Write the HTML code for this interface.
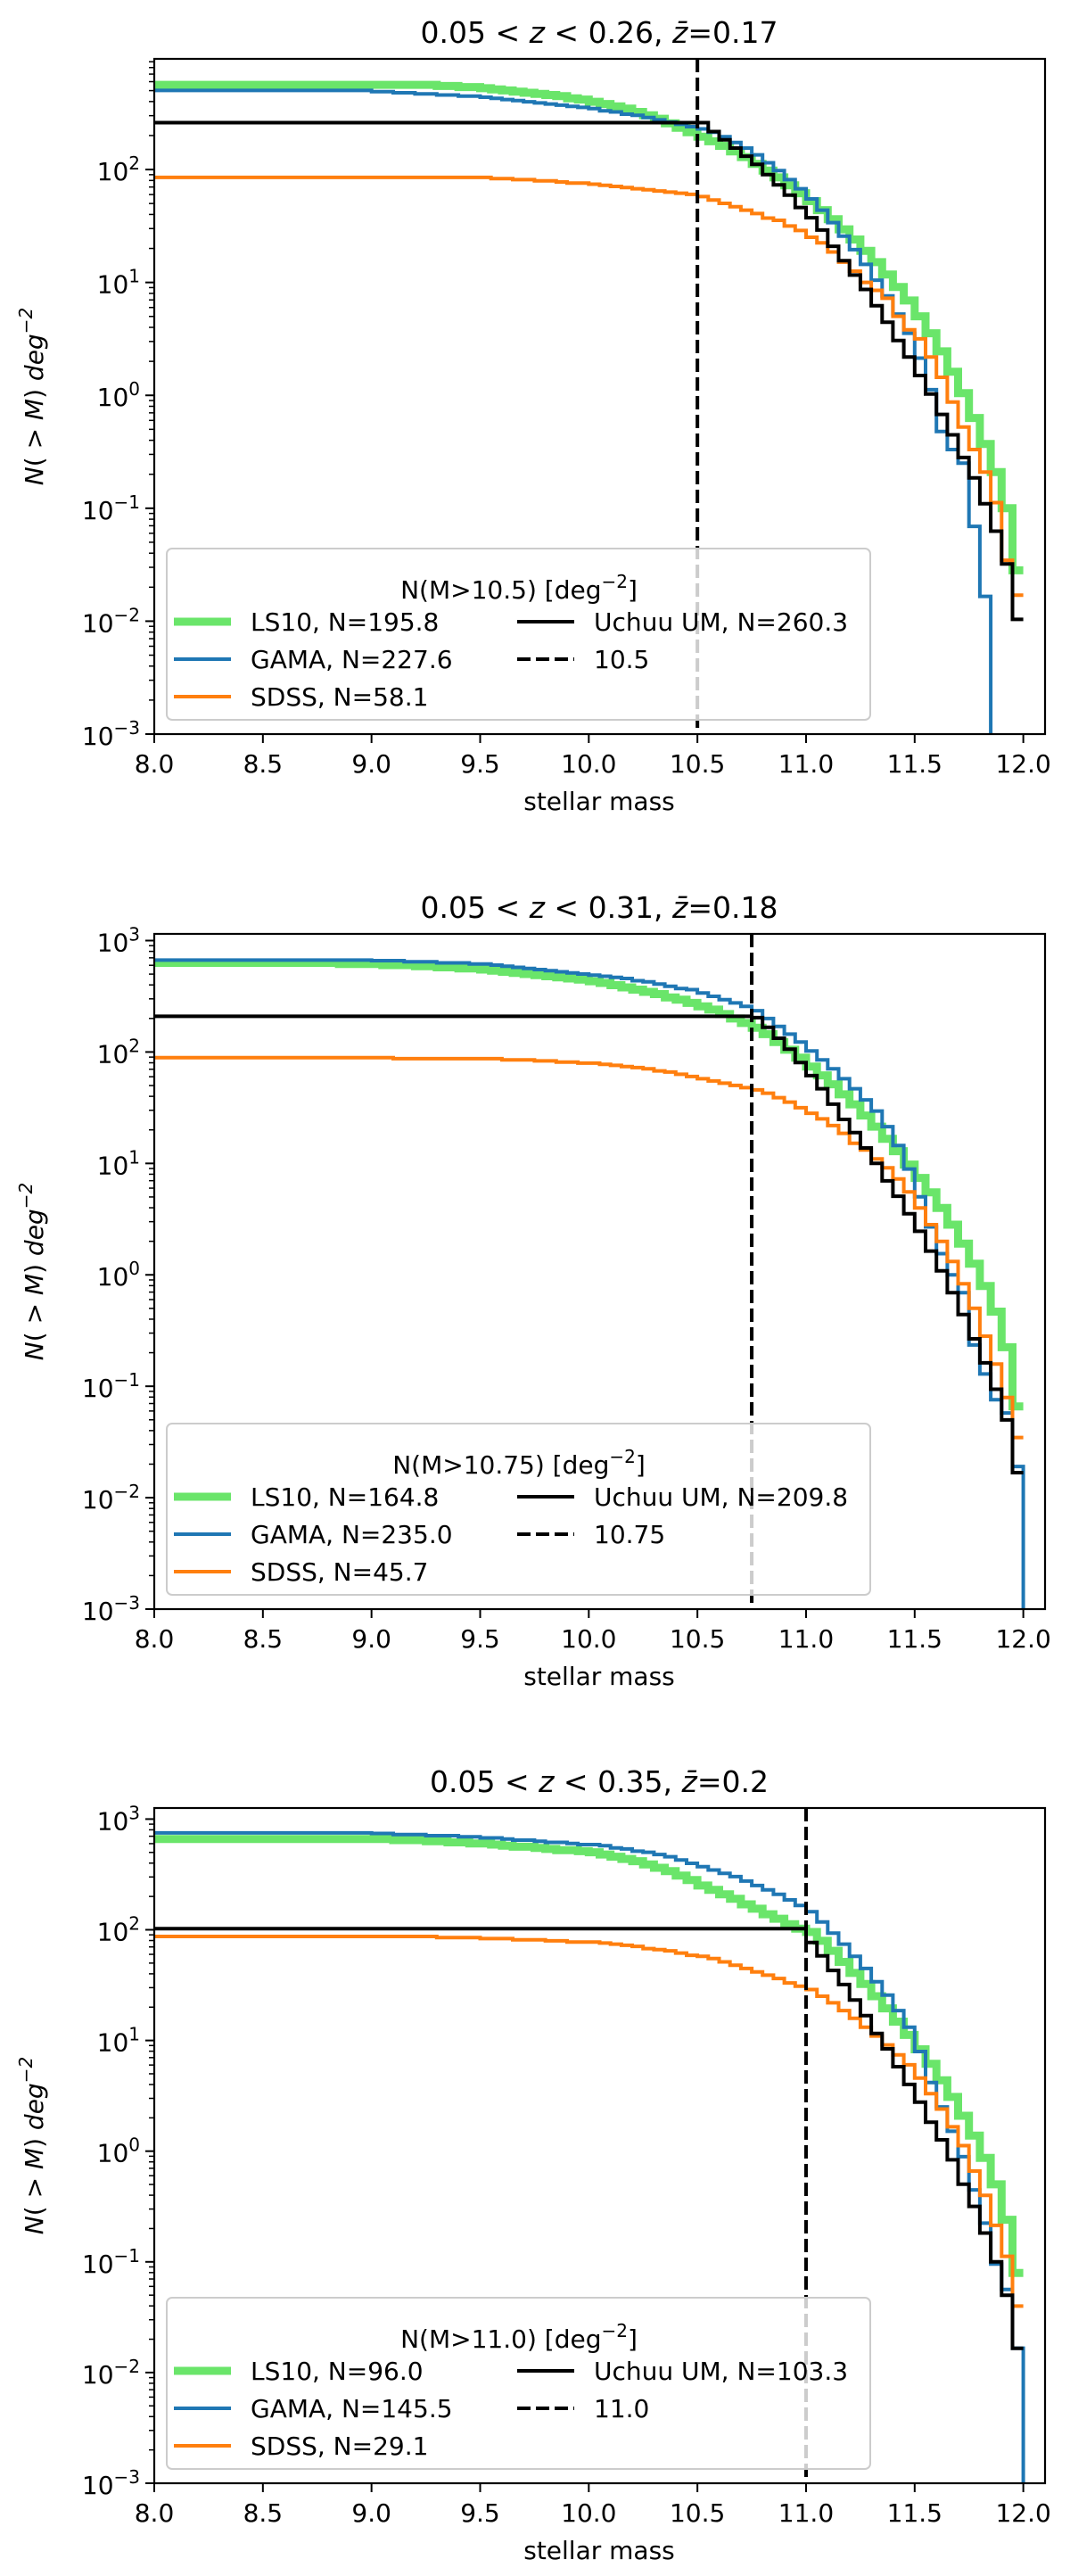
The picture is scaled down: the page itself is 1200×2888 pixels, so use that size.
<!DOCTYPE html>
<html><head><meta charset="utf-8"><title>Cumulative stellar mass functions</title>
<style>
html,body{margin:0;padding:0;background:#fff;}
svg{display:block;font-family:"DejaVu Sans","Liberation Sans",sans-serif;}
</style></head>
<body>
<svg id="fig" xmlns="http://www.w3.org/2000/svg" width="1200" height="2888" viewBox="0 0 1200 2888"></svg>
<script>
// ---- data: log10 N(>M) per 0.05-dex bin from 8.00 to 11.95 ----
const binStart = 8.0;
const binWidth = 0.05;
const xTicks = [8.0, 8.5, 9.0, 9.5, 10.0, 10.5, 11.0, 11.5, 12.0];
const xTickLabels = ["8.0","8.5","9.0","9.5","10.0","10.5","11.0","11.5","12.0"];
const seriesNames = ["LS10","GAMA","SDSS","Uchuu UM"];
const titles = [["0.05","0.26","0.17"],["0.05","0.31","0.18"],["0.05","0.35","0.2"]];
const cutValues = [10.5, 10.75, 11.0];
const cutLabels = ["10.5","10.75","11.0"];
const legendN = [["195.8","227.6","58.1","260.3"],["164.8","235.0","45.7","209.8"],["96.0","145.5","29.1","103.3"]];

const p1Green = [2.75,2.75,2.75,2.75,2.75,2.75,2.75,2.75,2.75,2.75, 2.75,2.75,2.75,2.75,2.75,2.75,2.75,2.75,2.75,2.75, 2.75,2.75,2.75,2.75,2.75,2.75,2.74,2.74,2.73,2.73, 2.72,2.71,2.70,2.69,2.68,2.67,2.66,2.65,2.63,2.62, 2.60,2.58,2.56,2.54,2.51,2.48,2.45,2.41,2.37,2.33, 2.29,2.25,2.21,2.16,2.11,2.05,1.99,1.93,1.86,1.79,1.72,1.64,1.56,1.47,1.38,1.28,1.18,1.07,0.96,0.84,0.70,0.55,0.39,0.21,0.02,-0.20,-0.43,-0.68,-1.0,-1.55];
const p1Blue = [2.70,2.70,2.70,2.70,2.70,2.70,2.70,2.70,2.70,2.70, 2.70,2.70,2.70,2.70,2.70,2.70,2.70,2.70,2.70,2.70, 2.69,2.69,2.68,2.68,2.67,2.67,2.66,2.66,2.65,2.65, 2.64,2.63,2.62,2.61,2.60,2.59,2.58,2.57,2.56,2.55, 2.54,2.52,2.51,2.49,2.48,2.46,2.44,2.42,2.40,2.38, 2.36,2.33,2.29,2.24,2.19,2.13,2.06,1.99,1.91,1.83,1.74,1.64,1.53,1.41,1.29,1.16,1.02,0.88,0.72,0.55,0.33,0.05,-0.32,-0.48,-0.60,-1.16,-1.78,-9,-9,-9];
const p1Orange = [1.93,1.93,1.93,1.93,1.93,1.93,1.93,1.93,1.93,1.93, 1.93,1.93,1.93,1.93,1.93,1.93,1.93,1.93,1.93,1.93, 1.93,1.93,1.93,1.93,1.93,1.93,1.93,1.93,1.93,1.93, 1.93,1.92,1.92,1.91,1.91,1.90,1.90,1.89,1.88,1.88, 1.87,1.86,1.85,1.84,1.83,1.82,1.81,1.80,1.79,1.78, 1.76,1.73,1.70,1.67,1.64,1.61,1.57,1.55,1.50,1.46,1.40,1.35,1.27,1.18,1.10,1.00,0.93,0.86,0.70,0.58,0.50,0.34,0.16,-0.06,-0.28,-0.48,-0.68,-0.95,-1.46,-1.77];
const p1Black = [2.415,2.415,2.415,2.415,2.415,2.415,2.415,2.415,2.415,2.415, 2.415,2.415,2.415,2.415,2.415,2.415,2.415,2.415,2.415,2.415, 2.415,2.415,2.415,2.415,2.415,2.415,2.415,2.415,2.415,2.415, 2.415,2.415,2.415,2.415,2.415,2.415,2.415,2.415,2.415,2.415, 2.415,2.415,2.415,2.415,2.415,2.415,2.415,2.415,2.415,2.415, 2.415,2.336,2.263,2.19,2.118,2.046,1.955,1.864,1.773,1.664,1.573,1.464,1.32,1.192,1.065,0.938,0.793,0.648,0.485,0.339,0.176,0.012,-0.169,-0.35,-0.55,-0.731,-0.96,-1.203,-1.493,-1.984];

const p2Green = [2.80,2.80,2.80,2.80,2.80,2.80,2.80,2.80,2.80,2.80,2.80,2.80,2.80,2.80,2.80, 2.80,2.80,2.79,2.79,2.79,2.79,2.78,2.78,2.78,2.77,2.77,2.76,2.76,2.75,2.75, 2.74,2.73,2.72,2.71,2.70,2.69,2.68,2.67,2.66,2.65,2.635, 2.62,2.60,2.58,2.56,2.54,2.52,2.49,2.47,2.44,2.41,2.38,2.34,2.30,2.26, 2.217,2.16,2.09,2.02,1.95,1.87,1.79,1.71,1.62,1.53,1.43,1.33,1.22,1.11,0.99,0.87,0.74,0.60,0.45,0.28,0.10,-0.10,-0.33,-0.65,-1.18];
const p2Blue = [2.825,2.825,2.825,2.825,2.825,2.825,2.825,2.825,2.825,2.825,2.825,2.825,2.825,2.825,2.825,2.825,2.825,2.825,2.825,2.825, 2.82,2.82,2.82,2.81,2.81,2.81,2.80,2.80,2.80,2.79, 2.79,2.78,2.77,2.76,2.75,2.74,2.73,2.72,2.71,2.70,2.69, 2.68,2.67,2.66,2.64,2.63,2.61,2.59,2.57,2.56,2.53,2.50,2.47,2.44,2.41, 2.371,2.30,2.23,2.16,2.09,2.01,1.93,1.85,1.76,1.67,1.57,1.47,1.33,1.16,0.95,0.70,0.43,0.19,0.0,-0.16,-0.63,-0.89,-1.12,-1.24,-1.72];
const p2Orange = [1.95,1.95,1.95,1.95,1.95,1.95,1.95,1.95,1.95,1.95,1.95,1.95,1.95,1.95,1.95,1.95,1.95,1.95,1.95,1.95, 1.95,1.95,1.94,1.94,1.94,1.94,1.94,1.94,1.94,1.94, 1.94,1.94,1.93,1.93,1.93,1.92,1.92,1.91,1.91,1.90,1.90, 1.89,1.88,1.87,1.86,1.85,1.83,1.82,1.80,1.78,1.76,1.74,1.72,1.70,1.68, 1.66,1.63,1.59,1.55,1.50,1.45,1.40,1.34,1.27,1.18,1.12,1.04,0.96,0.86,0.745,0.60,0.45,0.30,0.12,-0.08,-0.30,-0.55,-0.80,-1.10,-1.46];
const p2Black = [2.32,2.32,2.32,2.32,2.32,2.32,2.32,2.32,2.32,2.32, 2.32,2.32,2.32,2.32,2.32,2.32,2.32,2.32,2.32,2.32, 2.32,2.32,2.32,2.32,2.32,2.32,2.32,2.32,2.32,2.32, 2.32,2.32,2.32,2.32,2.32,2.32,2.32,2.32,2.32,2.32, 2.32,2.32,2.32,2.32,2.32,2.32,2.32,2.32,2.32,2.32, 2.32,2.32,2.32,2.32,2.32, 2.308,2.221,2.123,2.025,1.906,1.788,1.670,1.532,1.395,1.277,1.139,1.001,0.843,0.706,0.548,0.391,0.213,0.036,-0.16,-0.357,-0.574,-0.79,-1.027,-1.302,-1.775];

const p3Green = [2.82,2.82,2.82,2.82,2.82,2.82,2.82,2.82,2.82,2.82,2.82,2.82,2.82,2.82,2.82,2.82,2.82,2.82,2.82,2.82, 2.82,2.82,2.81,2.81,2.81,2.80,2.80,2.79,2.79,2.78,2.78,2.77,2.76,2.75,2.75,2.74,2.73,2.72,2.72,2.71, 2.70,2.68,2.66,2.64,2.62,2.59,2.56,2.53,2.49,2.45,2.40,2.36,2.32,2.28,2.23,2.19,2.14,2.10,2.05,2.01, 1.98,1.90,1.81,1.71,1.61,1.51,1.40,1.29,1.17,1.05,0.92,0.79,0.64,0.49,0.32,0.14,-0.06,-0.30,-0.62,-1.1];
const p3Blue = [2.875,2.875,2.875,2.875,2.875,2.875,2.875,2.875,2.875,2.875,2.875,2.875,2.875,2.875,2.875,2.875,2.875,2.875,2.875,2.875, 2.87,2.87,2.86,2.86,2.86,2.85,2.85,2.85,2.84,2.84,2.83,2.83,2.82,2.81,2.81,2.80,2.79,2.79,2.78,2.77, 2.77,2.76,2.74,2.73,2.71,2.70,2.68,2.66,2.63,2.60,2.57,2.54,2.51,2.48,2.44,2.40,2.36,2.32,2.27,2.22, 2.163,2.07,1.97,1.87,1.76,1.65,1.53,1.41,1.27,1.12,0.90,0.62,0.40,0.18,-0.05,-0.35,-0.65,-1.02,-1.25,-1.78];
const p3Orange = [1.94,1.94,1.94,1.94,1.94,1.94,1.94,1.94,1.94,1.94,1.94,1.94,1.94,1.94,1.94,1.94,1.94,1.94,1.94,1.94,1.94,1.94,1.94,1.94,1.94, 1.94,1.93,1.93,1.93,1.93,1.92,1.92,1.92,1.91,1.91,1.91,1.90,1.90,1.89,1.89, 1.89,1.88,1.87,1.86,1.85,1.83,1.82,1.81,1.79,1.77,1.76,1.74,1.71,1.68,1.65,1.62,1.59,1.56,1.52,1.49, 1.46,1.40,1.34,1.27,1.20,1.12,1.04,0.96,0.87,0.78,0.66,0.52,0.38,0.22,0.05,-0.18,-0.40,-0.67,-0.95,-1.40];
const p3Black = [2.01,2.01,2.01,2.01,2.01,2.01,2.01,2.01,2.01,2.01, 2.01,2.01,2.01,2.01,2.01,2.01,2.01,2.01,2.01,2.01, 2.01,2.01,2.01,2.01,2.01,2.01,2.01,2.01,2.01,2.01, 2.01,2.01,2.01,2.01,2.01,2.01,2.01,2.01,2.01,2.01, 2.01,2.01,2.01,2.01,2.01,2.01,2.01,2.01,2.01,2.01, 2.01,2.01,2.01,2.01,2.01,2.01,2.01,2.01,2.01,2.01, 1.886,1.765,1.633,1.505,1.365,1.224,1.064,0.924,0.763,0.603,0.443,0.262,0.102,-0.078,-0.299,-0.499,-0.74,-1.0,-1.301,-1.782];

const panelGreen = [p1Green, p2Green, p3Green];
const panelBlue = [p1Blue, p2Blue, p3Blue];
const panelOrange = [p1Orange, p2Orange, p3Orange];
const panelBlack = [p1Black, p2Black, p3Black];
const logYMin = -3;
const logYMax = [2.98, 3.06, 3.10];

// ---- layout ----
const NS = "http://www.w3.org/2000/svg";
const svg = document.getElementById("fig");
const AX_L = 173, AX_R = 1172, AX_H = 757;
const panelTops = [66, 1047, 2027];
const XMIN = 8.0, XMAX = 12.1;
function mk(tag, attrs, parent) {
  const e = document.createElementNS(NS, tag);
  for (const k in attrs) e.setAttribute(k, attrs[k]);
  parent.appendChild(e);
  return e;
}
function xScale(m) { return AX_L + (m - XMIN) / (XMAX - XMIN) * (AX_R - AX_L); }

panelTops.forEach((top, p) => {
  const bottom = top + AX_H;
  const yMax = logYMax[p];
  const yScale = lv => top + (yMax - lv) / (yMax - logYMin) * AX_H;
  const g = mk("g", {}, svg);
  
  

  const clip = mk("clipPath", {id: "clip" + p}, g);
  mk("rect", {x: AX_L, y: top, width: AX_R - AX_L, height: AX_H}, clip);

  // title
  const t = titles[p];
  const title = mk("text", {x: 672, y: top - 18, "font-size": 33, "text-anchor": "middle", fill: "#000"}, g);
  
  
  title.innerHTML = t[0] + " &lt; <tspan font-style='italic'>z</tspan> &lt; " + t[1] + ", <tspan font-style='italic'>z̄</tspan>=" + t[2];

  // series
  const series = [[panelGreen[p], "#6ae56a", 9, "ls10-line"], [panelBlue[p], "#1f77b4", 4, "gama-line"], [panelOrange[p], "#ff7f0e", 4, "sdss-line"], [panelBlack[p], "#000000", 4, "uchuu-line"]];
  const lg = mk("g", {"clip-path": "url(#clip" + p + ")"}, g);
  series.forEach(([vals, col, w, name], si) => {
    let d = "";
    vals.forEach((v, i) => {
      const x0 = xScale(binStart + i * binWidth), x1 = xScale(binStart + (i + 1) * binWidth);
      const y = yScale(Math.max(v, -3.6));
      d += (i === 0 ? "M" : "L") + x0.toFixed(1) + "," + y.toFixed(1) + "L" + x1.toFixed(1) + "," + y.toFixed(1);
    });
    if (si === 1 && p > 0) d += "L" + xScale(binStart + vals.length * binWidth).toFixed(1) + "," + (bottom + 10);
    const path = mk("path", {d: d, fill: "none", stroke: col, "stroke-width": w, "stroke-linejoin": "miter"}, lg);
    
    
  });

  // cut line
  const cx = xScale(cutValues[p]);
  const cut = mk("line", {x1: cx, y1: top, x2: cx, y2: bottom, stroke: "#000", "stroke-width": 4, "stroke-dasharray": "15,6"}, g);
  
  

  // axes frame
  const frame = mk("rect", {x: AX_L, y: top, width: AX_R - AX_L, height: AX_H, fill: "none", stroke: "#000", "stroke-width": 2.2}, g);
  
  

  // x ticks
  xTicks.forEach((v, i) => {
    const x = xScale(v);
    mk("line", {x1: x, y1: bottom, x2: x, y2: bottom + 10, stroke: "#000", "stroke-width": 2}, g);
    const lb = mk("text", {x: x, y: bottom + 43, "font-size": 28, "text-anchor": "middle"}, g);
    
    
    lb.textContent = xTickLabels[i];
  });
  const xl = mk("text", {x: 672, y: bottom + 85, "font-size": 28, "text-anchor": "middle"}, g);
  
  
  xl.textContent = "stellar mass";

  // y ticks
  for (let e = -3; e <= 3; e++) {
    for (let m = 1; m <= 9; m++) {
      const lv = e + Math.log10(m);
      if (lv > yMax + 1e-9 || lv < logYMin - 1e-9) continue;
      const y = yScale(lv);
      const major = m === 1;
      mk("line", {x1: AX_L - (major ? 10 : 6), y1: y, x2: AX_L, y2: y, stroke: "#000", "stroke-width": major ? 2 : 1.5}, g);
      if (major) {
        const lb = mk("text", {x: AX_L - 16, y: y + 12, "font-size": 28, "text-anchor": "end"}, g);
        
        
        lb.innerHTML = "10<tspan font-size='20' dy='-12'>" + (e < 0 ? "−" + (-e) : e) + "</tspan>";
      }
    }
  }
  const yl = mk("text", {x: 0, y: 0, "font-size": 28, "text-anchor": "middle", transform: "translate(48," + (top + AX_H / 2) + ") rotate(-90)"}, g);
  
  
  yl.innerHTML = "<tspan font-style='italic'>N</tspan>( &gt; <tspan font-style='italic'>M</tspan>) <tspan font-style='italic'>deg</tspan><tspan font-size='20' dy='-12' font-style='italic'>−2</tspan>";

  // legend
  const ly = top + 549;
  const leg = mk("g", {}, g);
  
  
  mk("rect", {x: 187, y: ly, width: 789, height: 192, rx: 6, fill: "#fff", "fill-opacity": 0.8, stroke: "#cccccc", "stroke-width": 2}, leg);
  const lt = mk("text", {x: 582, y: ly + 56, "font-size": 28, "text-anchor": "middle"}, leg);
  
  
  lt.innerHTML = "N(M&gt;" + cutLabels[p] + ") [deg<tspan font-size='20' dy='-12'>−2</tspan><tspan dy='12'>]</tspan>";
  const entries = [
    [195, ly + 82, "#6ae56a", 9, null, seriesNames[0] + ", N=" + legendN[p][0]],
    [195, ly + 124, "#1f77b4", 4, null, seriesNames[1] + ", N=" + legendN[p][1]],
    [195, ly + 166, "#ff7f0e", 4, null, seriesNames[2] + ", N=" + legendN[p][2]],
    [580, ly + 82, "#000", 4, null, seriesNames[3] + ", N=" + legendN[p][3]],
    [580, ly + 124, "#000", 4, "15,6", cutLabels[p]]
  ];
  entries.forEach(([x, y, col, w, dash, txt]) => {
    const eg = mk("g", {}, leg);
    
    
    const a = {x1: x, y1: y, x2: x + 64, y2: y, stroke: col, "stroke-width": w};
    if (dash) a["stroke-dasharray"] = dash;
    mk("line", a, eg);
    const tx = mk("text", {x: x + 86, y: y + 10, "font-size": 28}, eg);
    tx.textContent = txt;
  });
});
</script>
</body></html>
